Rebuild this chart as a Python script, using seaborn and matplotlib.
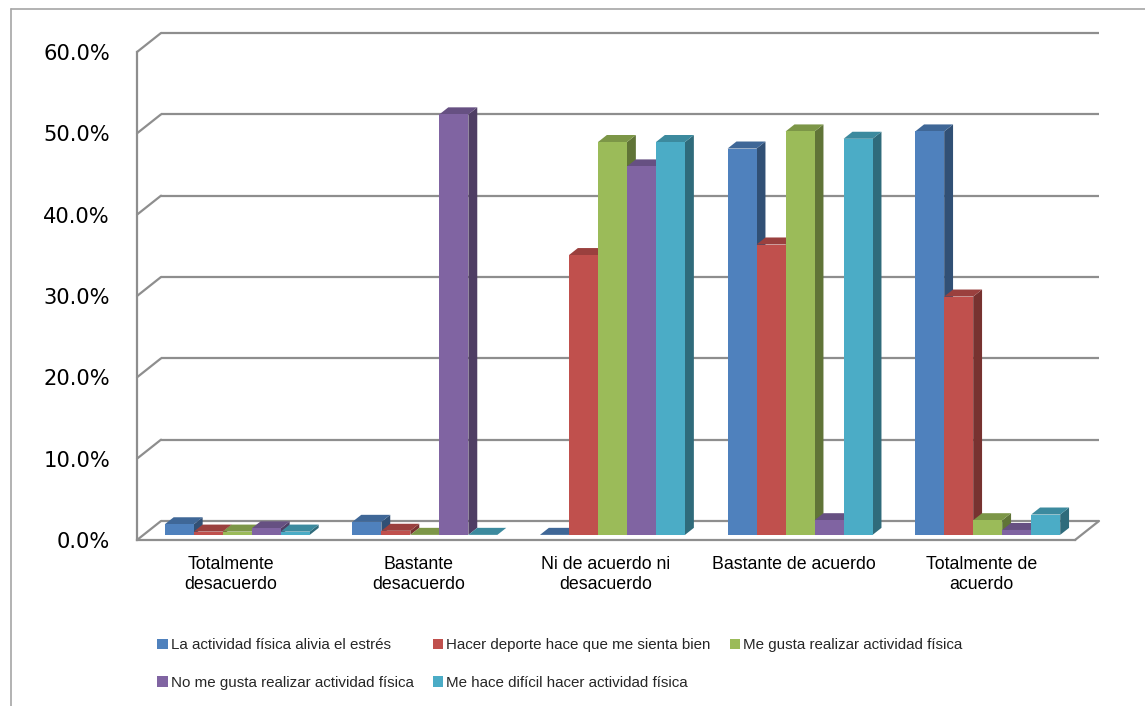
import numpy as np
import pandas as pd
import matplotlib
matplotlib.use("Agg")
import matplotlib.pyplot as plt
import seaborn as sns
from matplotlib.patches import Polygon, Patch
from matplotlib.lines import Line2D
from matplotlib.ticker import PercentFormatter
from matplotlib import font_manager

# ---- data -------------------------------------------------------------
categories = [
    "Totalmente\ndesacuerdo",
    "Bastante\ndesacuerdo",
    "Ni de acuerdo ni\ndesacuerdo",
    "Bastante de acuerdo",
    "Totalmente de\nacuerdo",
]
series = [
    "La actividad física alivia el estrés",
    "Hacer deporte hace que me sienta bien",
    "Me gusta realizar actividad física",
    "No me gusta realizar actividad física",
    "Me hace difícil hacer actividad física",
]
alivia_estres = [1.3, 1.6, 0.0, 47.5, 49.6]
sienta_bien = [0.4, 0.5, 34.4, 35.7, 29.3]
me_gusta = [0.4, 0.0, 48.3, 49.6, 1.8]
no_me_gusta = [0.8, 51.7, 45.3, 1.8, 0.6]
me_hace_dificil = [0.4, 0.0, 48.3, 48.7, 2.5]
yticks = [0.0, 0.1, 0.2, 0.3, 0.4, 0.5, 0.6]

colors = ["#4F81BD", "#C0504D", "#9BBB59", "#8064A2", "#4BACC6"]

values = [alivia_estres, sienta_bien, me_gusta, no_me_gusta, me_hace_dificil]
df = pd.DataFrame(
    [(c, s, v / 100.0) for s, vals in zip(series, values) for c, v in zip(categories, vals)],
    columns=["categoria", "serie", "valor"],
)

# ---- fonts ------------------------------------------------------------
sns.set_style("white")
installed = {f.name for f in font_manager.fontManager.ttflist}
if "Liberation Sans Narrow" in installed:
    label_family = "Liberation Sans Narrow"
    cat_px, leg_px = 20.5, 18.4
else:
    label_family = "Liberation Sans"
    cat_px, leg_px = 17.8, 15.1
PT = 0.72  # points per pixel at 100 dpi
plt.rcParams["font.family"] = ["DejaVu Sans"]

# ---- figure & axes ----------------------------------------------------
W, H = 1145, 706
fig = plt.figure(figsize=(W / 100, H / 100), dpi=100)
ax = fig.add_axes([137 / W, 1 - 540 / H, 938 / W, 488 / H])

sns.barplot(
    data=df, x="categoria", y="valor", hue="serie",
    order=categories, hue_order=series, palette=colors,
    width=0.773, gap=0, dodge=True, saturation=1,
    errorbar=None, legend=False, linewidth=0, ax=ax,
)
ax.set_xlim(-0.5, 4.5)
ax.set_ylim(0, 0.6)

grid_c = "#8e8e8e"

def px_to_data(dx_px, dy_px):
    x0, y0 = ax.transData.transform((0, 0))
    return ax.transData.inverted().transform((x0 + dx_px, y0 + dy_px))

# depth of the floor / wall and of each bar (pixels)
FLOOR_DX, FLOOR_DY = 24, 19
BAR_FRONT, BAR_DEPTH = 0.27, 0.37
fx, fy = px_to_data(FLOOR_DX, FLOOR_DY)
ox, oy = px_to_data(FLOOR_DX * BAR_FRONT, FLOOR_DY * BAR_FRONT)
bx, by = px_to_data(FLOOR_DX * BAR_DEPTH, FLOOR_DY * BAR_DEPTH)

# 3-D faces for every bar, painted left to right
bars = sorted(ax.patches, key=lambda p: p.get_x())
for i, p in enumerate(bars):
    x, w, h = p.get_x() + ox, p.get_width(), p.get_height()
    y0 = oy
    p.set_x(x)
    p.set_y(y0)
    fc = np.array(p.get_facecolor()[:3])
    z = 2 + i * 0.01
    side = Polygon([(x + w, y0), (x + w + bx, y0 + by), (x + w + bx, y0 + h + by), (x + w, y0 + h)],
                   closed=True, fc=fc * 0.62, ec="none", zorder=z)
    top = Polygon([(x, y0 + h), (x + w, y0 + h), (x + w + bx, y0 + h + by), (x + bx, y0 + h + by)],
                  closed=True, fc=fc * 0.80, ec="none", zorder=z)
    ax.add_patch(side)
    ax.add_patch(top)
    p.set_zorder(z + 0.005)

# back wall gridlines and left wall diagonals
for t in yticks:
    ax.plot([-0.5 + fx, 4.5 + fx], [t + fy, t + fy], color=grid_c, lw=1.6,
            zorder=0.5, clip_on=False, solid_capstyle="butt")
    ax.plot([-0.5, -0.5 + fx], [t, t + fy], color=grid_c, lw=1.6,
            zorder=0.5, clip_on=False)
# right edge of the floor
ax.plot([4.5, 4.5 + fx], [0, fy], color=grid_c, lw=1.6, zorder=0.5, clip_on=False)

ax.set_xlim(-0.5, 4.5)
ax.set_ylim(0, 0.6)

# spines
for s in ("top", "right"):
    ax.spines[s].set_visible(False)
for s in ("left", "bottom"):
    ax.spines[s].set_color(grid_c)
    ax.spines[s].set_linewidth(1.6)

# y axis
ax.set_yticks(yticks)
ax.yaxis.set_major_formatter(PercentFormatter(1.0, decimals=1))
ax.tick_params(axis="y", length=9 * PT, width=1.6, color=grid_c, pad=18 * PT,
               labelsize=21 * PT, labelcolor="black")
ax.set_ylabel("")

# x axis
ax.set_xticks(range(len(categories)))
ax.set_xticklabels(categories, fontsize=cat_px * PT, family=label_family, linespacing=1.22)
ax.set_xticks(np.arange(-0.5, 5.0, 1.0), minor=True)
ax.tick_params(axis="x", which="major", length=0, pad=16 * PT, labelcolor="black")
ax.tick_params(axis="x", which="minor", length=6 * PT, width=1.6, color=grid_c)
ax.set_xlabel("")

# outer chart border (left and top edges)
border_c = "#a6a6a6"
fig.add_artist(Line2D([11 / W, 11 / W], [0, 1 - 9 / H], transform=fig.transFigure, color=border_c, lw=1.2))
fig.add_artist(Line2D([11 / W, 1], [1 - 9 / H, 1 - 9 / H], transform=fig.transFigure, color=border_c, lw=1.2))

# legend (two rows)
handles = [Patch(facecolor=c, edgecolor="none") for c in colors]
order = [0, 3, 1, 4, 2]
fig.legend(
    [handles[i] for i in order], [series[i] for i in order],
    loc="center left", bbox_to_anchor=(145 / W, 1 - 664 / H), ncol=3,
    frameon=False, prop={"family": label_family, "size": leg_px * PT},
    handlelength=0.7, handleheight=0.7, handletextpad=0.2,
    columnspacing=19 / leg_px, labelspacing=(41 - 1.15 * leg_px) / leg_px,
    borderpad=0.3,
)

fig.savefig("out.png", dpi=100)
